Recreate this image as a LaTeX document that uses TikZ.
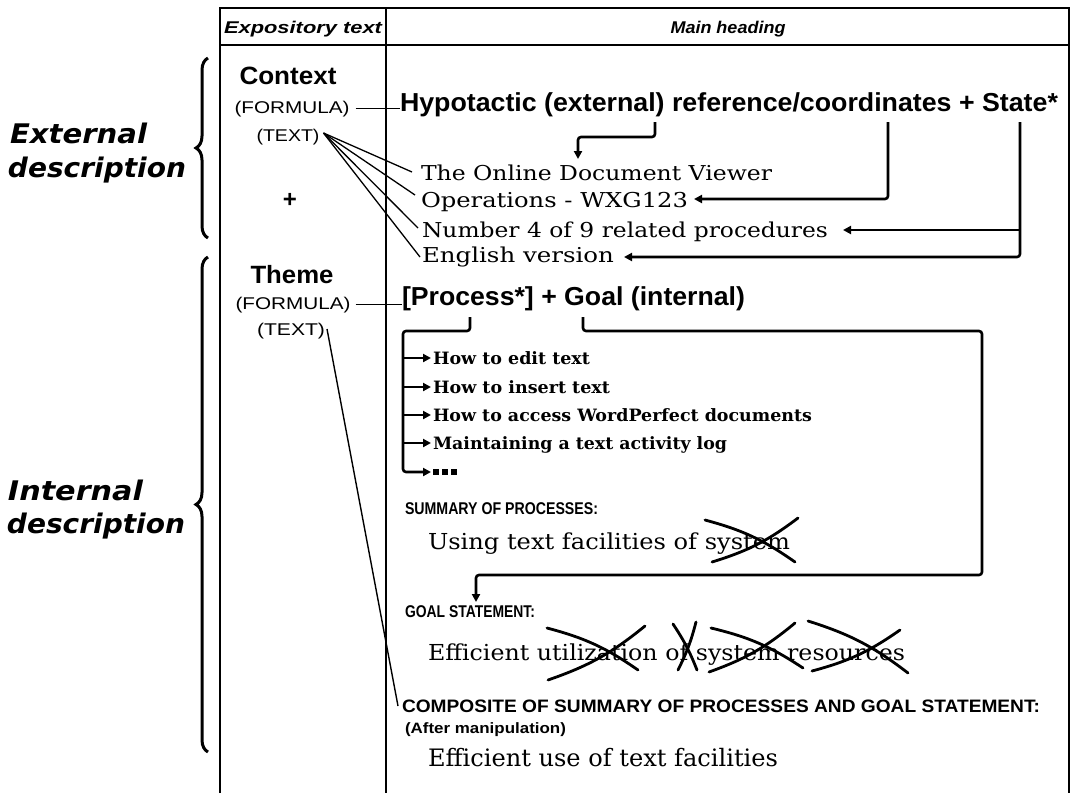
\documentclass[tikz,border=0pt]{standalone}
\usepackage{fontspec}
\usepackage{graphicx}
\setmainfont{Liberation Sans}
\newfontfamily\slabfont{DejaVu Serif}
\newfontfamily\handfont{DejaVu Sans}
\usetikzlibrary{arrows.meta,decorations.pathreplacing}

% set #2 and stretch it horizontally to the width #1 (in pt)
\newsavebox\fitbox
\newcommand\fitto[2]{%
  \sbox\fitbox{#2}%
  \edef\fitwd{\the\wd\fitbox}%
  \pgfmathsetmacro\fitsc{#1/\fitwd}%
  \scalebox{\fitsc}[1]{\usebox\fitbox}}
\newcommand\fs[1]{\fontsize{#1}{#1}\selectfont}

\tikzset{
  lbl/.style={inner sep=0pt, outer sep=0pt, anchor=base west},
  lblc/.style={inner sep=0pt, outer sep=0pt, anchor=base},
  rulepen/.style={line width=2.2pt},
  conn/.style={line width=2.6pt, rounded corners=3pt},
  tip/.style={-{Triangle[length=8pt,width=8pt]}},
  fan/.style={line width=1.3pt},
  thinlink/.style={line width=1.4pt},
  strike/.style={line width=2.8pt, line cap=round},
  curly/.style={decorate, decoration={brace, amplitude=12pt, aspect=0.5}, line width=3pt},
}

\begin{document}
\begin{tikzpicture}[x=1pt,y=-1pt]
\useasboundingbox (0,0) rectangle (1076,793);

% ---- table frame ----
\draw[rulepen] (220,793) -- (220,8) -- (1069,8) -- (1069,793);
\draw[rulepen] (220,45) -- (1069,45);
\draw[rulepen] (386,8) -- (386,793);

\node[lblc] (hexp) at (303,33) {\fitto{158}{\fs{17}\bfseries\itshape Expository text}};
\node[lblc] (hmain) at (728,33) {\fitto{115}{\fs{17}\bfseries\itshape Main heading}};

% ---- side labels and braces ----
\node[lbl] (ext1) at (10,143) {\fitto{137}{\handfont\fs{27}\bfseries\itshape External}};
\node[lbl] (ext2) at (8,177) {\fitto{178}{\handfont\fs{27}\bfseries\itshape description}};
\node[lbl] (int1) at (8,500) {\fitto{135}{\handfont\fs{27}\bfseries\itshape Internal}};
\node[lbl] (int2) at (7,533) {\fitto{178}{\handfont\fs{27}\bfseries\itshape description}};
\draw[curly] (208,238) -- (208,58);
\draw[curly] (208,752) -- (208,257);

% ---- expository column ----
\node[lblc] (ctx) at (288,84) {\fitto{97}{\fs{25}\bfseries Context}};
\node[lblc] (ctxfml) at (292,113) {\fitto{115}{\fs{17}(FORMULA)}};
\node[lblc] (ctxtxt) at (288,141) {\fitto{63}{\fs{17}(TEXT)}};
\node[lblc] (plus) at (290,207) {\fs{24}\bfseries +};
\node[lblc] (thm) at (292,283) {\fitto{83}{\fs{25}\bfseries Theme}};
\node[lblc] (thmfml) at (293,309) {\fitto{115}{\fs{17}(FORMULA)}};
\node[lblc] (thmtxt) at (291,335) {\fitto{68}{\fs{17}(TEXT)}};

% ---- main column: context ----
\node[lbl] (hyp) at (400,111) {\fitto{658}{\fs{26}\bfseries Hypotactic (external) reference/coordinates + State*}};
\node[lbl] (l1) at (421,180) {\fitto{351}{\slabfont\fs{20.5}The Online Document Viewer}};
\node[lbl] (l2) at (421,207) {\fitto{267}{\slabfont\fs{20.5}Operations - WXG123}};
\node[lbl] (l3) at (422,237) {\fitto{406}{\slabfont\fs{20.5}Number 4 of 9 related procedures}};
\node[lbl] (l4) at (422,262) {\fitto{192}{\slabfont\fs{20.5}English version}};

\draw[thinlink] ([xshift=6pt]ctxfml.east) -- (ctxfml.east -| hyp.west);
\coordinate (hub) at ([xshift=4pt,yshift=8pt]ctxtxt.base east);
\draw[fan] (hub) -- ([xshift=-9pt,yshift=8pt]l1.base west);
\draw[fan] (hub) -- ([xshift=-6pt,yshift=12pt]l2.base west);
\draw[fan] (hub) -- ([xshift=-4pt,yshift=9pt]l3.base west);
\draw[fan] (hub) -- ([xshift=-2pt,yshift=5pt]l4.base west);

\coordinate (refw) at (655,122);
\coordinate (coow) at (888,122);
\coordinate (stw) at (1020,122);
\coordinate (doctip) at (578,159);
\coordinate (optip) at (694,199);
\coordinate (numtip) at (843,230);
\coordinate (engtip) at (624,257);
\draw[conn,tip] (refw) -- ++(0,15) -| (doctip);
\draw[conn,tip] (coow) |- (optip);
\draw[conn,tip] (stw) |- (engtip);
\draw[conn,tip] (stw |- numtip) -- (numtip);

% ---- main column: theme ----
\node[lbl] (proc) at (402,305) {\fitto{343}{\fs{26}\bfseries [Process*] + Goal (internal)}};
\draw[thinlink] ([xshift=5pt]thmfml.east) -- (thmfml.east -| proc.west);

\node[lbl] (i1) at (433,364) {\fitto{157}{\slabfont\fs{17}\bfseries How to edit text}};
\node[lbl] (i2) at (433,393) {\fitto{177}{\slabfont\fs{17}\bfseries How to insert text}};
\node[lbl] (i3) at (433,421) {\fitto{379}{\slabfont\fs{17}\bfseries How to access WordPerfect documents}};
\node[lbl] (i4) at (433,449) {\fitto{294}{\slabfont\fs{17}\bfseries Maintaining a text activity log}};
\node[inner sep=0pt, anchor=west] (i5) at (433,472)
  {\rule{6pt}{6pt}\hspace{3pt}\rule{6pt}{6pt}\hspace{3pt}\rule{6pt}{6pt}};

\coordinate (procw) at (470,317);
\coordinate (bar) at (403,331);
\draw[conn,tip] (procw) |- (bar) |- ([xshift=-2pt]i5.west);
\foreach \itm/\y in {i1/358,i2/387,i3/415,i4/443}
  \draw[conn,tip] (403,\y) -- ([xshift=-2pt]\itm.west |- 0,\y);

\coordinate (goalw) at (583,317);
\coordinate (boxr) at (982,331);
\coordinate (goaltip) at (476,602);
\draw[conn,tip] (goalw) |- (boxr) |- (goaltip |- 0,575) -- (goaltip);

\node[lbl] (sum) at (405,514) {\fitto{193}{\fs{17}\bfseries SUMMARY OF PROCESSES:}};
\node[lbl] (sumt) at (428,549) {\fitto{362}{\slabfont\fs{22}Using text facilities of system}};
\node[lbl] (goal) at (405,617) {\fitto{130}{\fs{17}\bfseries GOAL STATEMENT:}};
\node[lbl] (goalt) at (428,660) {\fitto{477}{\slabfont\fs{22}Efficient utilization of system resources}};
\node[lbl] (compo) at (402,712) {\fitto{638}{\fs{18}\bfseries COMPOSITE OF SUMMARY OF PROCESSES AND GOAL STATEMENT:}};
\node[lbl] (after) at (405,733) {\fitto{161}{\fs{15}\bfseries (After manipulation)}};
\node[lbl] (compt) at (428,766) {\fitto{350}{\slabfont\fs{24}Efficient use of text facilities}};

\draw[thinlink] ([xshift=2pt,yshift=6pt]thmtxt.base east) -- ([xshift=-4pt,yshift=6pt]compo.base west);

% ---- crossed-out words ----
\draw[strike] (705,520) to[bend left=10] (795,562);
\draw[strike] (798,518) to[bend left=10] (712,562);
\draw[strike] (547,628) to[bend left=10] (638,670);
\draw[strike] (645,626) to[bend left=10] (548,680);
\draw[strike] (673,624) to[bend left=6] (697,670);
\draw[strike] (696,622) to[bend left=6] (678,670);
\draw[strike] (711,628) to[bend left=10] (803,668);
\draw[strike] (795,623) to[bend left=10] (709,672);
\draw[strike] (808,621) to[bend left=10] (908,673);
\draw[strike] (900,630) to[bend left=10] (812,671);
\end{tikzpicture}
\end{document}
